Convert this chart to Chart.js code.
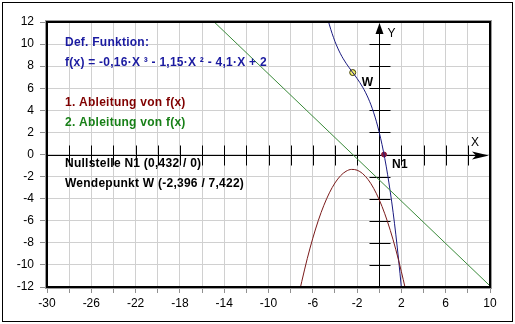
<!DOCTYPE html>
<html><head><meta charset="utf-8">
<script src="https://cdn.jsdelivr.net/npm/chart.js@4/dist/chart.umd.min.js"></script>
<style>html,body{margin:0;padding:0;background:#fff}canvas{display:block}</style>
</head><body>
<canvas id="c" width="515" height="324"></canvas>
<script>
// f(x) = -0,16·X³ - 1,15·X² - 4,1·X + 2
const fX = [-4.57,-4.5,-4.25,-4,-3.75,-3.5,-3.25,-3,-2.75,-2.5,-2.25,-2,-1.75,-1.5,-1.25,-1,-0.75,-0.5,-0.25,0,0.25,0.5,0.75,1,1.25,1.5,1.75,2];
const fY = [12.0,11.74,10.94,10.24,9.64,9.12,8.67,8.27,7.91,7.56,7.23,6.88,6.51,6.10,5.64,5.11,4.50,3.78,2.96,2.0,0.90,-0.36,-1.79,-3.41,-5.23,-7.28,-9.55,-12.08];
// 1. Ableitung
const d1X = [-7.11,-7,-6.5,-6,-5.5,-5,-4.5,-4,-3.5,-3,-2.5,-2,-1.5,-1,-0.5,0,0.5,1,1.5,2,2.32];
const d1Y = [-12.0,-11.52,-9.43,-7.58,-5.97,-4.6,-3.47,-2.58,-1.93,-1.52,-1.35,-1.42,-1.73,-2.28,-3.07,-4.1,-5.37,-6.88,-8.63,-10.62,-12.0];
// 2. Ableitung
const d2X = [-14.9, 10];
const d2Y = [12.0, -11.9];
// special points
const wendeX = [-2.396], wendeY = [7.422];
const nullX = [0.432], nullY = [0];
// tick values
const xMin = -30, xMax = 10, xStep = 2, xLabelStep = 4;
const yMin = -12, yMax = 12, yStep = 2;
// texts
const txtDef = 'Def. Funktion:';
const txtF = 'f(x) = -0,16·X ³ - 1,15·X ² - 4,1·X + 2';
const txtD1 = '1. Ableitung von f(x)';
const txtD2 = '2. Ableitung von f(x)';
const txtN = 'Nullstelle N1 (0,432 / 0)';
const txtW = 'Wendepunkt W (-2,396 / 7,422)';

const pts = (xs, ys) => xs.map((x, i) => ({x, y: ys[i]}));
const FONT = '"Liberation Sans", Arial, sans-serif';

const overlay = {
  id: 'overlay',
  beforeDatasetsDraw(chart) {
    const ctx = chart.ctx, xs = chart.scales.x, ys = chart.scales.y, a = chart.chartArea;
    const x0 = Math.round(xs.getPixelForValue(0)) + 0.5;
    const y0 = Math.round(ys.getPixelForValue(0)) + 0.5;
    ctx.save();
    ctx.strokeStyle = '#000'; ctx.lineWidth = 1;
    ctx.beginPath();
    ctx.moveTo(a.left, y0); ctx.lineTo(a.right - 4, y0);
    ctx.moveTo(x0, a.top + 4); ctx.lineTo(x0, a.bottom);
    for (let v = xMin + xStep; v < xMax; v += xStep) {
      if (v === 0) continue;
      const p = Math.round(xs.getPixelForValue(v)) + 0.5;
      ctx.moveTo(p, y0 - 10); ctx.lineTo(p, y0 + 10);
    }
    for (let v = yMin + yStep; v < yMax; v += yStep) {
      if (v === 0) continue;
      const p = Math.round(ys.getPixelForValue(v)) + 0.5;
      ctx.moveTo(x0 - 10, p); ctx.lineTo(x0 + 11, p);
    }
    ctx.stroke();
    // arrows
    ctx.fillStyle = '#000';
    ctx.beginPath();
    ctx.moveTo(x0, a.top + 1); ctx.lineTo(x0 - 4, a.top + 12); ctx.lineTo(x0 + 4, a.top + 12); ctx.closePath();
    ctx.fill();
    ctx.beginPath();
    ctx.moveTo(a.right - 1, y0); ctx.lineTo(a.right - 18, y0 - 4); ctx.lineTo(a.right - 14, y0); ctx.lineTo(a.right - 18, y0 + 4); ctx.closePath();
    ctx.fill();
    ctx.font = '12px ' + FONT;
    ctx.textBaseline = 'middle'; ctx.textAlign = 'left';
    ctx.fillText('Y', x0 + 8, a.top + 12);
    ctx.fillText('X', a.right - 19, y0 - 13);
    ctx.restore();
  },
  afterDatasetsDraw(chart) {
    const ctx = chart.ctx, a = chart.chartArea, xs = chart.scales.x, ys = chart.scales.y;
    ctx.save();
    // frame
    ctx.strokeStyle = '#9a9a9a'; ctx.lineWidth = 1;
    ctx.strokeRect(a.left - 1.5, a.top - 1.5, a.right - a.left + 3, a.bottom - a.top + 3);
    ctx.strokeStyle = '#000'; ctx.lineWidth = 2;
    ctx.strokeRect(a.left, a.top, a.right - a.left, a.bottom - a.top);
    // outer border
    ctx.lineWidth = 1;
    ctx.strokeRect(2.5, 2.5, 510, 319);
    // texts
    ctx.font = 'bold 12px ' + FONT;
    try { ctx.letterSpacing = '0.25px'; } catch (e) {}
    ctx.textBaseline = 'middle'; ctx.textAlign = 'left';
    const tx = a.left + 18;
    ctx.fillStyle = '#1a1aa0'; ctx.fillText(txtDef, tx, 43); ctx.fillText(txtF, tx, 63);
    ctx.fillStyle = '#800000'; ctx.fillText(txtD1, tx, 103);
    ctx.fillStyle = '#188018'; ctx.fillText(txtD2, tx, 123);
    ctx.fillStyle = '#000'; ctx.fillText(txtN, tx, 164); ctx.fillText(txtW, tx, 184);
    ctx.fillText('W', xs.getPixelForValue(wendeX[0]) + 9, ys.getPixelForValue(wendeY[0]) + 10);
    ctx.fillText('N1', xs.getPixelForValue(nullX[0]) + 8, ys.getPixelForValue(nullY[0]) + 10);
    ctx.restore();
  }
};

new Chart(document.getElementById('c'), {
  type: 'scatter',
  data: {
    datasets: [
      {data: pts(d2X, d2Y), showLine: true, borderColor: '#3a8a3a', borderWidth: 1, pointRadius: 0},
      {data: pts(d1X, d1Y), showLine: true, borderColor: '#7a1a1a', borderWidth: 1, pointRadius: 0, cubicInterpolationMode: 'monotone'},
      {data: pts(fX, fY), showLine: true, borderColor: '#1a1a80', borderWidth: 1, pointRadius: 0, cubicInterpolationMode: 'monotone'},
      {data: pts(wendeX, wendeY), pointRadius: 3, pointBackgroundColor: '#f4f070', pointBorderColor: '#3a3a00', pointBorderWidth: 1},
      {data: pts(nullX, nullY), pointRadius: 2.5, pointBackgroundColor: '#8a1a3a', pointBorderColor: '#8a1a3a'}
    ]
  },
  options: {
    responsive: false, animation: false, devicePixelRatio: 1,
    layout: {padding: {top: 22, right: 25, left: 0, bottom: 0}},
    plugins: {legend: {display: false}, tooltip: {enabled: false}},
    scales: {
      x: {
        type: 'linear', min: xMin, max: xMax,
        ticks: {stepSize: xStep, autoSkip: false, maxRotation: 0, color: '#000', padding: 3,
          font: {family: FONT, size: 12},
          callback: v => ((v - xMin) % xLabelStep === 0 ? String(v) : '')},
        grid: {color: '#d0d0d0', tickLength: 6, tickColor: '#909090'},
        border: {display: false},
        afterFit: s => { s.height = 37; }
      },
      y: {
        min: yMin, max: yMax,
        ticks: {stepSize: yStep, color: '#000', padding: 6, font: {family: FONT, size: 12}},
        grid: {color: '#d0d0d0', tickLength: 7, tickColor: '#909090'},
        border: {display: false},
        afterFit: s => { s.width = 47; }
      }
    }
  },
  plugins: [overlay]
});
</script>
</body></html>
